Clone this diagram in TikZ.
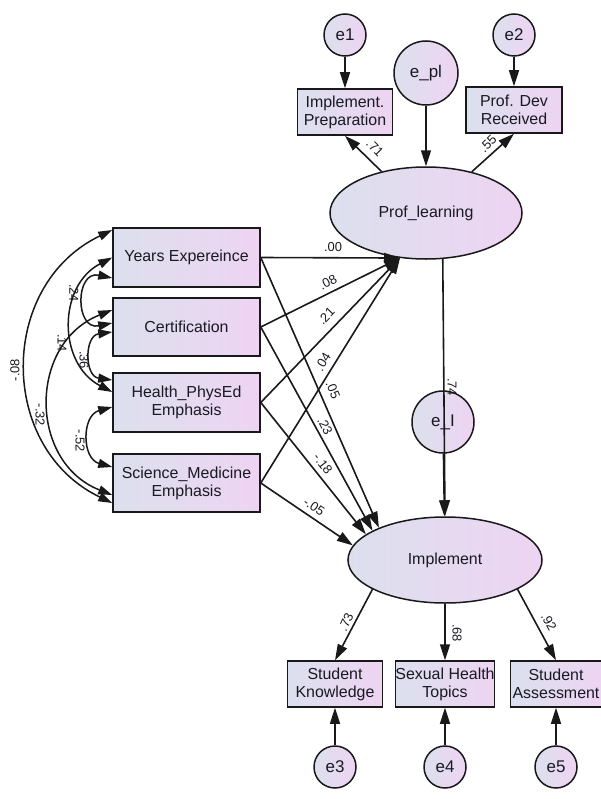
\documentclass[tikz,border=0pt]{standalone}
\usepackage{fontspec}
\setmainfont{Liberation Sans}
\usetikzlibrary{shapes.geometric,arrows.meta}
\definecolor{lc}{RGB}{220,224,238}
\definecolor{rc}{RGB}{238,212,242}
\definecolor{ln}{RGB}{25,25,25}
\definecolor{tx}{RGB}{25,25,35}
\begin{document}
\begin{tikzpicture}[x=1bp,y=-1bp,
  obs/.style={draw=ln, line width=1.5bp, rectangle, left color=lc, right color=rc, align=center, inner sep=0pt, font=\fontsize{16}{18}\selectfont, text=tx},
  lat/.style={draw=ln, line width=1.5bp, ellipse, left color=lc, right color=rc, inner sep=0pt, font=\fontsize{16}{18}\selectfont, text=tx},
  err/.style={draw=ln, line width=1.5bp, circle, left color=lc, right color=rc, inner sep=0pt, font=\fontsize{17}{18}\selectfont, text=tx},
  arr/.style={draw=ln, line width=1.6bp, -{Triangle[length=16bp,width=10bp]}},
  darr/.style={draw=ln, line width=1.5bp, {Triangle[length=14bp,width=9bp]}-{Triangle[length=14bp,width=9bp]}},
  lbl/.style={inner sep=0pt, font=\fontsize{13}{13}\selectfont, text=tx}]
\useasboundingbox (0,0) rectangle (601,799);

% top
\node[err, minimum size=42bp] (e1) at (345,35) {e1};
\node[err, minimum size=42bp] (e2) at (514,35) {e2};
\node[err, minimum size=64bp] (epl) at (426,73) {e\_pl};
\node[obs, minimum width=95bp, minimum height=46bp] (ip) at (345,112) {Implement.\\Preparation};
\node[obs, minimum width=96bp, minimum height=46bp] (pd) at (514,110) {Prof. Dev\\Received};
\node[lat, minimum width=192bp, minimum height=92bp] (pl) at (426,213) {Prof\_learning};

% exogenous
\node[obs, minimum width=147bp, minimum height=59bp] (years) at (186.5,257.5) {Years Expereince};
\node[obs, minimum width=147bp, minimum height=58bp] (cert) at (186.5,327) {Certification};
\node[obs, minimum width=147bp, minimum height=59bp] (health) at (186.5,402.5) {Health\_PhysEd\\Emphasis};
\node[obs, minimum width=147bp, minimum height=58bp] (sci) at (186.5,483) {Science\_Medicine\\Emphasis};

% implement
\node[err, minimum size=62bp] (ei) at (443,422) {e\_I};
\node[lat, minimum width=194bp, minimum height=86bp] (im) at (445,560) {Implement};
\node[obs, minimum width=95bp, minimum height=46bp] (sk) at (335,684) {Student\\Knowledge};
\node[obs, minimum width=94bp, minimum height=46bp] (sht) at (445,684) {Sexual Health\\Topics};
\node[obs, minimum width=91bp, minimum height=46bp] (sa) at (556,684) {Student\\Assessment};
\node[err, minimum size=42bp] (e3) at (335,767) {e3};
\node[err, minimum size=42bp] (e4) at (445,767) {e4};
\node[err, minimum size=42bp] (e5) at (556,767) {e5};

% paths top
\draw[arr] (e1) -- (ip);
\draw[arr] (e2) -- (pd);
\draw[arr] (epl) -- (pl);
\draw[arr] (pl.137) -- (ip.south);
\draw[arr] (pl.42) -- (pd.south);

% to prof learning
\draw[arr] (years.east) -- (pl.240);
\draw[arr] (cert.east) -- (pl.240);
\draw[arr] (health.east) -- (pl.240);
\draw[arr] (sci.east) -- (pl.240);

% to implement
\draw[arr] (years.east) -- (im.154);
\draw[arr] (cert.east) -- (im.158);
\draw[arr] (health.east) -- (im.162);
\draw[arr] (sci.east) -- (im.171);
\draw[arr] (pl.290) -- (im.north);
\draw[arr] (ei) -- (im);

% bottom
\draw[arr] (im.202) -- (sk.north);
\draw[arr] (im) -- (sht);
\draw[arr] (im.338) -- (sa.north);
\draw[arr] (e3) -- (sk);
\draw[arr] (e4) -- (sht);
\draw[arr] (e5) -- (sa);

% covariances
\draw[darr] ([yshift=27.5bp]years.west) .. controls +(-114.6,54.9) and +(-114.6,-54.9) .. ([yshift=-20bp]sci.west);
\draw[darr] ([yshift=0bp]years.west) .. controls +(-54.7,28.3) and +(-54.7,-28.3) .. ([yshift=10.5bp]health.west);
\draw[darr] ([yshift=-20.5bp]years.west) .. controls +(-37.4,-7.9) and +(-37.4,7.9) .. ([yshift=4bp]cert.west);
\draw[darr] ([yshift=-5bp]cert.west) .. controls +(-28,3.7) and +(-28,-3.7) .. ([yshift=22.5bp]health.west);
\draw[darr] ([yshift=17bp]cert.west) .. controls +(-84,33.1) and +(-84,-33.1) .. ([yshift=-12bp]sci.west);
\draw[darr] ([yshift=-4.5bp]health.west) .. controls +(-30.7,8.3) and +(-30.7,-8.3) .. ([yshift=16bp]sci.west);

% labels
\node[lbl] (l00) at (333,247) {.00};
\node[lbl, rotate=27] (l08) at (328,282) {.08};
\node[lbl, rotate=46] (l21) at (326,316) {.21};
\node[lbl, rotate=58] (l04) at (323,362) {.04};
\node[lbl, rotate=-67] (l05) at (333,390) {.05};
\node[lbl, rotate=-62] (l23) at (325,426) {.23};
\node[lbl, rotate=-52] (l18) at (323,464) {-.18};
\node[lbl, rotate=-34] (l05b) at (314,507) {-.05};
\node[lbl, rotate=-45] (l71) at (375,148) {.71};
\node[lbl, rotate=45] (l55) at (488,144) {.55};
\node[lbl, rotate=-90] (l74) at (452,387) {.74};
\node[lbl, rotate=65] (l73) at (346,622) {.73};
\node[lbl, rotate=-90] (l68) at (457,633) {.68};
\node[lbl, rotate=-61] (l92) at (549,622) {.92};

\node[lbl, rotate=-90] (c24) at (74,293) {.24};
\node[lbl, rotate=-90] (c14) at (62,343) {.14};
\node[lbl, rotate=-90] (c36) at (84,360) {.36};
\node[lbl, rotate=90] (c08) at (15,370) {-.08};
\node[lbl, rotate=-90] (c32) at (40,415) {-.32};
\node[lbl, rotate=-90] (c52) at (80,441) {-.52};
\end{tikzpicture}
\end{document}
